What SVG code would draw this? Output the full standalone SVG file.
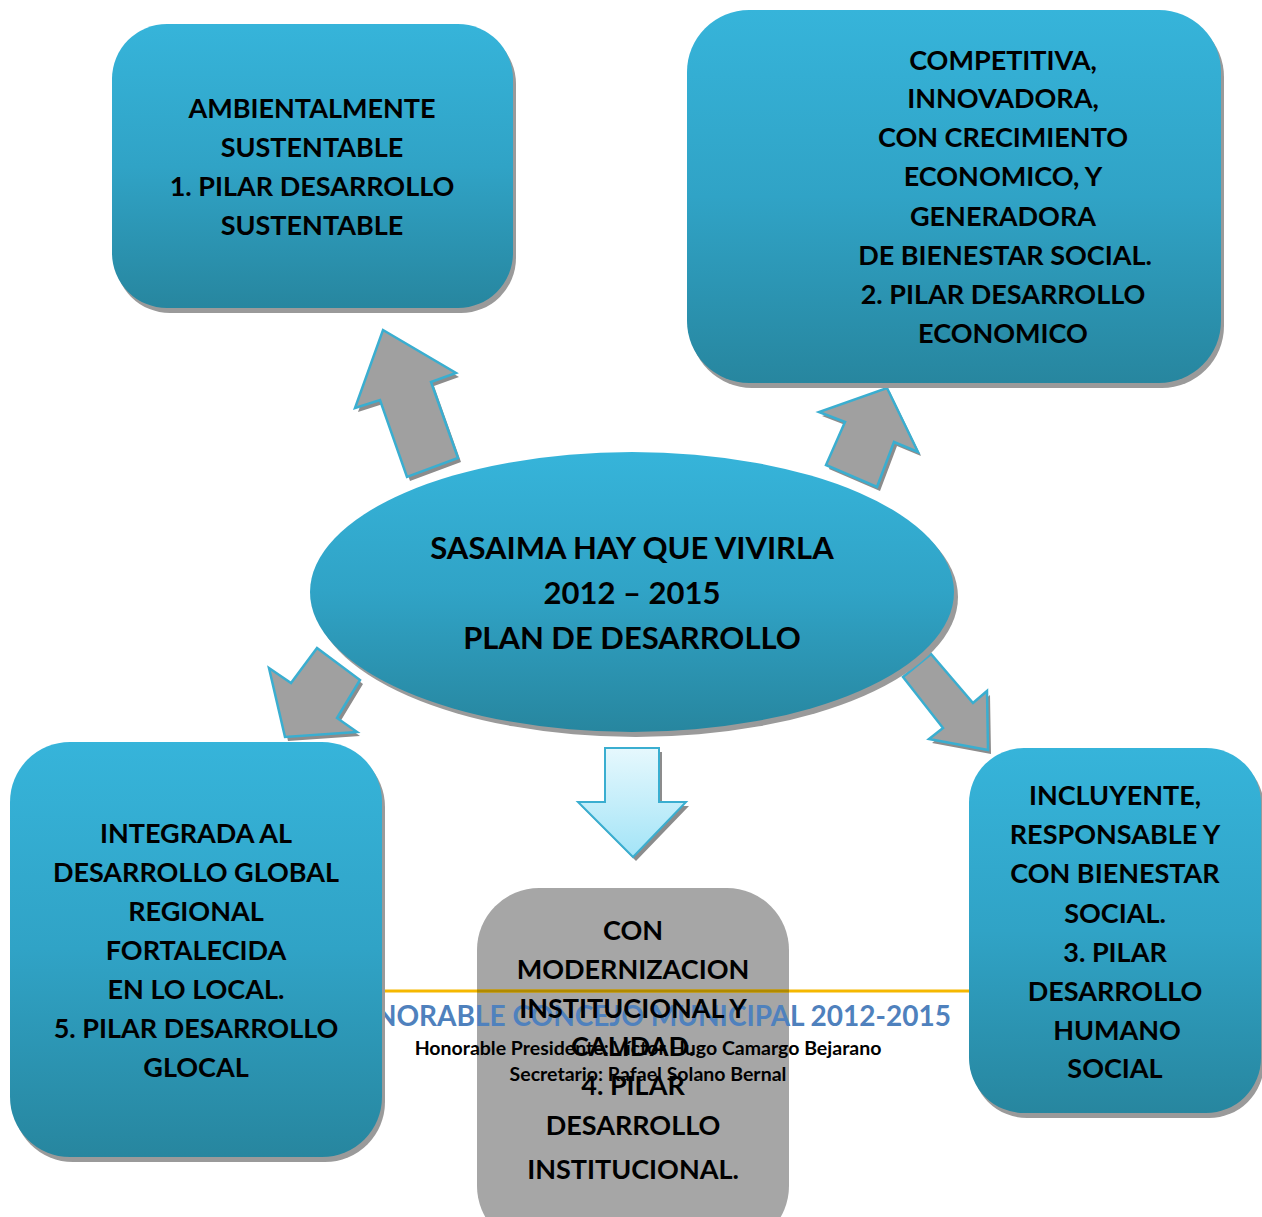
<svg xmlns="http://www.w3.org/2000/svg" width="1262" height="1217" viewBox="0 0 1262 1217">
<defs>
<linearGradient id="gBlue" x1="0" y1="0" x2="0" y2="1">
<stop offset="0" stop-color="#36b4da"/>
<stop offset="0.5" stop-color="#30a3c6"/>
<stop offset="1" stop-color="#27869f"/>
</linearGradient>
<linearGradient id="gLight" x1="0" y1="0" x2="0" y2="1">
<stop offset="0" stop-color="#e6f8fd"/>
<stop offset="1" stop-color="#a3e4f7"/>
</linearGradient>
<style>
.box{fill:url(#gBlue);}
.shadow{fill:#9a9a9a;}
.t{font-family:Lato,"Open Sans","Liberation Sans",sans-serif;font-weight:bold;font-size:27px;fill:#000;text-anchor:middle;}
.big{font-size:31px;}
.arrow{fill:#a0a0a0;stroke:#3aaed0;stroke-width:2.5;stroke-linejoin:miter;}
.ash{fill:#8c8c8c;}
.foot{font-family:Lato,"Open Sans","Liberation Sans",sans-serif;font-weight:bold;}
</style>
</defs>
<rect width="1262" height="1217" fill="#fff"/>

<g id="connectors">
<g id="arrow-1">
<polygon class="ash" transform="translate(3,4)" points="383,330 456,373 431,382 458,458 407,477 380,400 355,408"/>
<polygon class="arrow" points="383,330 456,373 431,382 458,458 407,477 380,400 355,408"/>
</g>
<g id="arrow-2">
<polygon class="ash" transform="translate(3,4)" points="887,388 918,452 894,442 877,487 826,465 845,422 819,412"/>
<polygon class="arrow" points="887,388 918,452 894,442 877,487 826,465 845,422 819,412"/>
</g>
<g id="arrow-5">
<polygon class="ash" transform="translate(3,4)" points="285,737 269,668 291,683 317,648 360,680 337,718 357,732"/>
<polygon class="arrow" points="285,737 269,668 291,683 317,648 360,680 337,718 357,732"/>
</g>
<g id="arrow-3">
<polygon class="ash" transform="translate(3,4)" points="988,750 929,739 943,728 903,677 931,654 973,703 987,691"/>
<polygon class="arrow" points="988,750 929,739 943,728 903,677 931,654 973,703 987,691"/>
</g>
<g id="arrow-4">
<polygon fill="#8c8c8c" transform="translate(3,4)" points="605,748 659,748 659,802 686,802 633,857 578,802 605,802"/>
<polygon fill="url(#gLight)" stroke="#3aaed0" stroke-width="2" points="605,748 659,748 659,802 686,802 633,857 578,802 605,802"/>
</g>
</g>

<g id="node-4-box">
<rect x="477" y="888" width="312" height="360" rx="62" fill="#a6a6a6"/>
</g>

<!-- footer -->
<g id="footer">
<line x1="370" y1="991" x2="980" y2="991" stroke="#f5b800" stroke-width="3"/>
<line x1="477" y1="991" x2="789" y2="991" stroke="#b08a00" stroke-width="3"/>
<text class="foot" x="951" y="1026" text-anchor="end" font-size="28" fill="#4f81bd">HONORABLE CONCEJO MUNICIPAL 2012-2015</text>
<text class="foot" x="648" y="1055" text-anchor="middle" font-size="19.5" fill="#000">Honorable Presidente: Víctor Hugo Camargo Bejarano</text>
<text class="foot" x="648" y="1081" text-anchor="middle" font-size="19.5" fill="#000">Secretario: Rafael Solano Bernal</text>
</g>

<g id="node-4">
<text class="t" x="633" y="940">CON</text>
<text class="t" x="633" y="979">MODERNIZACION</text>
<text class="t" x="633" y="1018">INSTITUCIONAL Y</text>
<text class="t" x="633" y="1056">CALIDAD.</text>
<text class="t" x="633" y="1095">4. PILAR</text>
<text class="t" x="633" y="1135">DESARROLLO</text>
<text class="t" x="633" y="1179">INSTITUCIONAL.</text>
</g>

<g id="node-1">
<rect class="shadow" x="115" y="29" width="401" height="284" rx="55"/>
<rect class="box" x="112" y="24" width="401" height="284" rx="55"/>
<text class="t" x="312" y="118">AMBIENTALMENTE</text>
<text class="t" x="312" y="157">SUSTENTABLE</text>
<text class="t" x="312" y="196">1. PILAR DESARROLLO</text>
<text class="t" x="312" y="235">SUSTENTABLE</text>
</g>

<g id="node-2">
<rect class="shadow" x="690" y="15" width="534" height="373" rx="62"/>
<rect class="box" x="687" y="10" width="534" height="373" rx="62"/>
<text class="t" x="1003" y="70">COMPETITIVA,</text>
<text class="t" x="1003" y="108">INNOVADORA,</text>
<text class="t" x="1003" y="147">CON CRECIMIENTO</text>
<text class="t" x="1003" y="186">ECONOMICO, Y</text>
<text class="t" x="1003" y="226">GENERADORA</text>
<text class="t" x="1005" y="265">DE BIENESTAR SOCIAL.</text>
<text class="t" x="1003" y="304">2. PILAR DESARROLLO</text>
<text class="t" x="1003" y="343">ECONOMICO</text>
</g>

<g id="node-center">
<ellipse class="shadow" cx="636" cy="597" rx="322" ry="140"/>
<ellipse class="box" cx="632" cy="592" rx="322" ry="140"/>
<text class="t big" x="632" y="559">SASAIMA HAY QUE VIVIRLA</text>
<text class="t big" x="632" y="604">2012 – 2015</text>
<text class="t big" x="632" y="649">PLAN DE DESARROLLO</text>
</g>

<g id="node-5">
<rect class="shadow" x="13" y="747" width="372" height="415" rx="60"/>
<rect class="box" x="10" y="742" width="372" height="415" rx="60"/>
<text class="t" x="196" y="843">INTEGRADA AL</text>
<text class="t" x="196" y="882">DESARROLLO GLOBAL</text>
<text class="t" x="196" y="921">REGIONAL</text>
<text class="t" x="196" y="960">FORTALECIDA</text>
<text class="t" x="196" y="999">EN LO LOCAL.</text>
<text class="t" x="196" y="1038">5. PILAR DESARROLLO</text>
<text class="t" x="196" y="1077">GLOCAL</text>
</g>

<g id="node-3">
<rect class="shadow" x="972" y="753" width="292" height="365" rx="55"/>
<rect class="box" x="969" y="748" width="292" height="365" rx="55"/>
<text class="t" x="1115" y="805">INCLUYENTE,</text>
<text class="t" x="1115" y="844">RESPONSABLE Y</text>
<text class="t" x="1115" y="883">CON BIENESTAR</text>
<text class="t" x="1115" y="923">SOCIAL.</text>
<text class="t" x="1115" y="962">3. PILAR</text>
<text class="t" x="1115" y="1001">DESARROLLO</text>
<text class="t" x="1117" y="1040">HUMANO</text>
<text class="t" x="1115" y="1078">SOCIAL</text>
</g>
</svg>
